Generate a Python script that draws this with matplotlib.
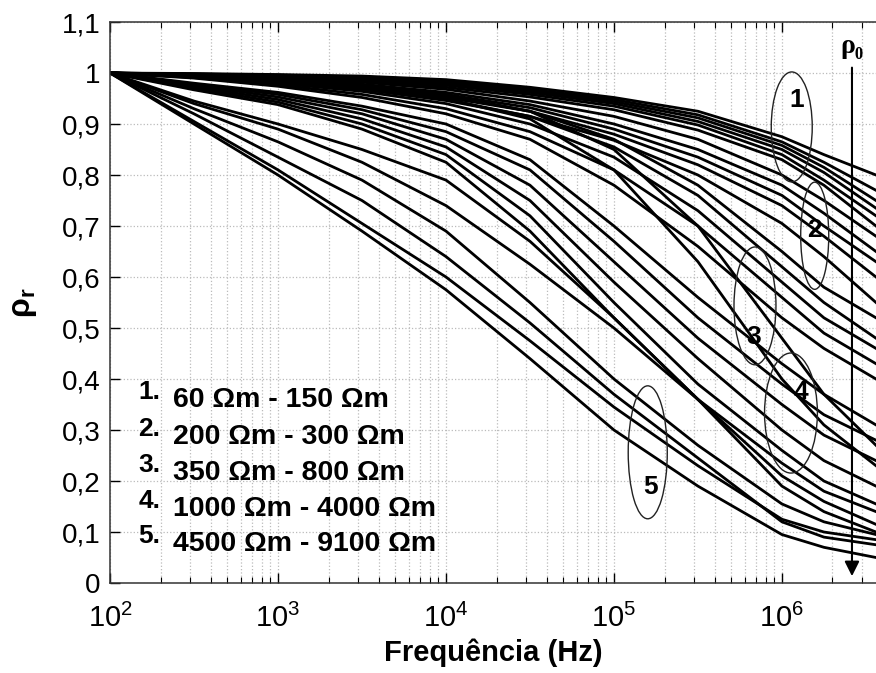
import matplotlib
matplotlib.use("Agg")
import matplotlib.pyplot as plt
from matplotlib.patches import Ellipse
from matplotlib.ticker import FixedLocator, LogLocator, NullFormatter

plt.rcParams["font.family"] = ["Liberation Sans", "DejaVu Sans"]
plt.rcParams["mathtext.fontset"] = "custom"
plt.rcParams["mathtext.rm"] = "Liberation Sans"
plt.rcParams["mathtext.bf"] = "Liberation Sans:bold"

# frequency points (Hz), half decades
freq = [100, 316, 1000, 3162, 10000, 31623, 100000, 316228, 1000000, 1778279, 3630781]

# group 1: 60 - 150 Ohm.m
g1 = [
    [1, .999, .997, .994, .987, .972, .952, .925, .875, .840, .800],
    [1, .998, .996, .992, .984, .968, .948, .918, .865, .825, .770],
    [1, .998, .995, .990, .981, .965, .944, .912, .858, .815, .750],
    [1, .997, .994, .988, .978, .962, .940, .905, .850, .805, .735],
    [1, .997, .993, .986, .976, .958, .935, .898, .840, .790, .720],
    [1, .996, .991, .984, .972, .953, .928, .888, .830, .780, .700],
]
# group 2: 200 - 300 Ohm.m
g2 = [
    [1, .996, .990, .982, .968, .945, .915, .870, .800, .750, .680],
    [1, .995, .988, .978, .962, .938, .900, .850, .780, .725, .650],
    [1, .995, .986, .975, .958, .932, .890, .835, .760, .700, .630],
    [1, .994, .984, .971, .952, .925, .880, .820, .740, .680, .600],
    [1, .993, .982, .968, .946, .915, .868, .800, .705, .640, .550],
]
# group 3: 350 - 800 Ohm.m
g3 = [
    [1, .994, .985, .972, .955, .925, .870, .780, .650, .580, .520],
    [1, .993, .982, .968, .948, .915, .855, .760, .620, .550, .480],
    [1, .992, .980, .964, .940, .900, .835, .730, .590, .520, .460],
    [1, .991, .977, .958, .930, .885, .810, .700, .560, .490, .430],
    [1, .990, .974, .952, .920, .870, .780, .660, .520, .460, .400],
    [1, .995, .986, .974, .957, .925, .850, .700, .480, .370, .270],
    [1, .994, .984, .970, .950, .910, .810, .630, .400, .310, .230],
]
# group 4: 1000 - 4000 Ohm.m
g4 = [
    [1, .980, .962, .935, .900, .830, .700, .560, .430, .370, .310],
    [1, .978, .958, .928, .885, .810, .670, .520, .390, .330, .280],
    [1, .976, .953, .920, .870, .780, .630, .480, .350, .290, .240],
    [1, .973, .948, .910, .855, .750, .590, .440, .300, .240, .190],
    [1, .970, .943, .900, .840, .720, .550, .390, .260, .200, .155],
    [1, .967, .938, .890, .825, .690, .520, .360, .235, .180, .140],
]
# group 5: 4500 - 9100 Ohm.m
g5 = [
    [1, .900, .800, .690, .575, .440, .300, .190, .095, .070, .050],
    [1, .905, .810, .705, .600, .475, .345, .230, .125, .100, .085],
    [1, .920, .835, .750, .640, .510, .370, .245, .120, .090, .075],
    [1, .930, .865, .790, .690, .550, .400, .270, .155, .120, .095],
    [1, .940, .890, .825, .740, .625, .500, .360, .210, .160, .115],
    [1, .945, .900, .850, .790, .670, .520, .360, .190, .140, .100],
]

legend_lines = ["60 \u03a9m - 150 \u03a9m", "200 \u03a9m - 300 \u03a9m", "350 \u03a9m - 800 \u03a9m",
                "1000 \u03a9m - 4000 \u03a9m", "4500 \u03a9m - 9100 \u03a9m"]
yticks = [0, 0.1, 0.2, 0.3, 0.4, 0.5, 0.6, 0.7, 0.8, 0.9, 1.0, 1.1]

fig = plt.figure(figsize=(8.76, 6.73), dpi=100)
ax = fig.add_axes([0.1256, 0.1337, 0.8744, 0.8336])

for group in [g1, g2, g3, g4, g5]:
    for rho in group:
        ax.plot(freq, rho, color="black", lw=2.0, solid_joinstyle="round")

ax.set_xscale("log")
ax.set_xlim(100, 10 ** 6.56)
ax.set_ylim(0, 1.1)

ax.xaxis.set_major_locator(LogLocator(base=10, numticks=10))
ax.xaxis.set_minor_locator(LogLocator(base=10, subs=range(2, 10), numticks=100))
ax.xaxis.set_minor_formatter(NullFormatter())
ax.yaxis.set_major_locator(FixedLocator(yticks))
ax.set_yticklabels([("%g" % v).replace(".", ",") for v in yticks])

ax.tick_params(axis="both", which="both", direction="in", top=True, right=False)
ax.tick_params(which="major", length=7, width=1)
ax.tick_params(which="minor", length=4, width=0.8)
ax.tick_params(axis="y", labelsize=20, pad=7)
ax.tick_params(axis="x", labelsize=21, pad=15)

ax.grid(True, which="major", color="#bbbbbb", ls=":", lw=0.9)
ax.grid(True, which="minor", axis="x", color="#bbbbbb", ls=":", lw=0.9)
ax.spines["right"].set_visible(False)
for s in ["left", "bottom", "top"]:
    ax.spines[s].set_color("#333333")
    ax.spines[s].set_linewidth(1.1)

ax.set_xlabel("Frequência (Hz)", fontsize=21, fontweight="bold", labelpad=4)
ax.set_ylabel(r"$\mathbf{\rho_r}$", fontsize=23, labelpad=16)

# legend text block
rows_y = [0.326, 0.260, 0.196, 0.132, 0.069]
for i, (txt, yy) in enumerate(zip(legend_lines, rows_y)):
    ax.text(0.037, yy + 0.014, "%d." % (i + 1), transform=ax.transAxes, fontsize=19,
            fontweight="bold", va="center", ha="left")
    ax.text(0.082, yy, txt, transform=ax.transAxes, fontsize=20.5,
            fontweight="bold", va="center", ha="left")

# ellipses around groups (axes fraction)
ellipses = [
    ("1", (0.890, 0.813), 0.0535, 0.196, (0.897, 0.861)),
    ("2", (0.920, 0.619), 0.0366, 0.191, (0.920, 0.629)),
    ("3", (0.842, 0.494), 0.0548, 0.210, (0.841, 0.438)),
    ("4", (0.889, 0.303), 0.069, 0.214, (0.902, 0.340)),
    ("5", (0.702, 0.233), 0.051, 0.237, (0.705, 0.171)),
]
for lab, c, w, h, tpos in ellipses:
    ax.add_patch(Ellipse(c, w, h, transform=ax.transAxes, fill=False,
                         edgecolor="#222222", lw=1.0, zorder=5))
    ax.text(tpos[0], tpos[1], lab, transform=ax.transAxes, fontsize=19,
            fontweight="bold", ha="center", va="center", zorder=6)

# rho0 arrow
f0 = 10 ** 6.417
ax.annotate("", xy=(f0, 0.008), xytext=(f0, 1.016),
            arrowprops=dict(arrowstyle="-|>", color="black", lw=1.5, mutation_scale=22))
ax.text(f0, 1.052, "\u03c1\u2080", fontsize=20, fontweight="bold",
        family=["Liberation Serif", "DejaVu Serif"], ha="center", va="center")

fig.savefig("out.png", dpi=100)
